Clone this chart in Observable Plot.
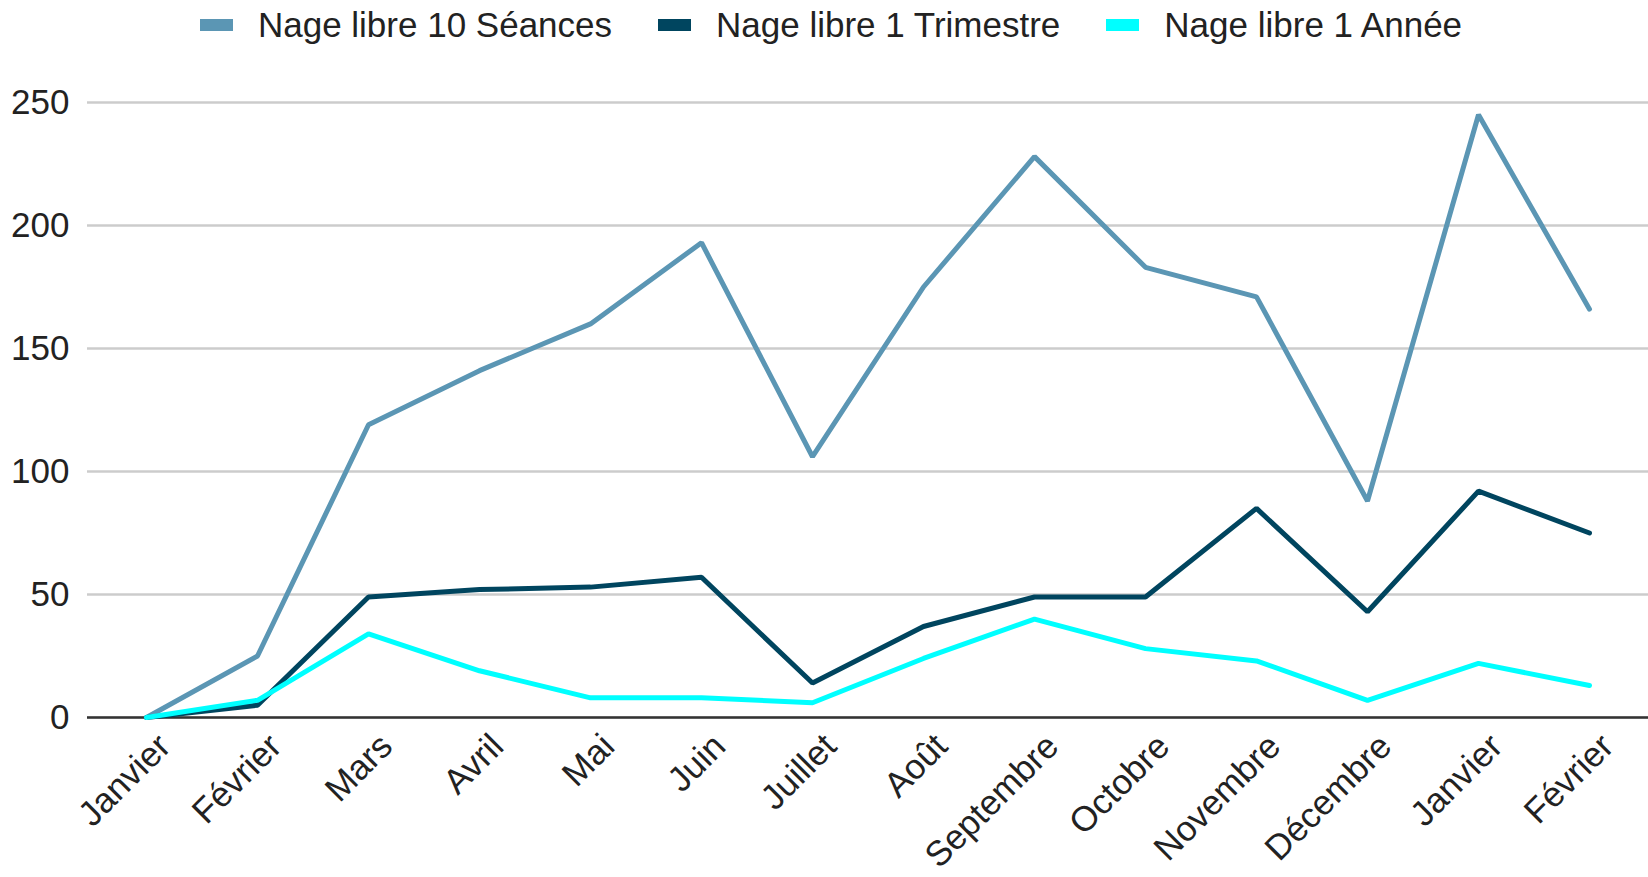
<!DOCTYPE html>
<html>
<head>
<meta charset="utf-8">
<script src="https://cdn.jsdelivr.net/npm/d3@7"></script>
<script src="https://cdn.jsdelivr.net/npm/@observablehq/plot@0.6"></script>
<style>
  body { margin: 0; background: #fff; font-family: "Liberation Sans", Arial, sans-serif; }
  #legend { height: 50px; display: flex; justify-content: center; align-items: center; font-size: 35px; color: #222; padding-left: 14px; }
  .item { display: flex; align-items: center; margin: 0 23px; }
  .sw { width: 33px; height: 12px; margin-right: 25px; }
  #chart svg { display: block; }
</style>
</head>
<body>
<div id="legend"></div>
<div id="chart"></div>
<script>
const months = ["Janvier","Février","Mars","Avril","Mai","Juin","Juillet","Août","Septembre","Octobre","Novembre","Décembre","Janvier","Février"];
const seriesNames = ["Nage libre 10 Séances","Nage libre 1 Trimestre","Nage libre 1 Année"];
const seances   = [0, 25, 119, 141, 160, 193, 106, 175, 228, 183, 171, 88, 245, 166];
const trimestre = [0, 5, 49, 52, 53, 57, 14, 37, 49, 49, 85, 43, 92, 75];
const annee     = [0, 7, 34, 19, 8, 8, 6, 24, 40, 28, 23, 7, 22, 13];
const colors = ["#5b96b4", "#00455f", "#00ffff"];
const yTicks = [0, 50, 100, 150, 200, 250];

const seriesValues = [seances, trimestre, annee];
const data = [];
seriesValues.forEach((vals, s) => vals.forEach((v, i) => data.push({i, v, s: seriesNames[s]})));

const legend = document.getElementById("legend");
seriesNames.forEach((n, k) => {
  const it = document.createElement("div");
  it.className = "item";
  it.innerHTML = `<div class="sw" style="background:${colors[k]}"></div><span>${n}</span>`;
  legend.appendChild(it);
});

const chart = Plot.plot({
  width: 1648,
  height: 827,
  marginLeft: 87,
  marginRight: 0,
  marginTop: 52,
  marginBottom: 160,
  style: { fontFamily: "'Liberation Sans', Arial, sans-serif", fontSize: "35px", color: "#222", background: "#fff" },
  x: { type: "point", domain: d3.range(months.length), padding: 0.5, label: null },
  y: { domain: [0, 250], label: null },
  color: { domain: seriesNames, range: colors },
  marks: [
    Plot.gridY(yTicks, { stroke: "#cccccc", strokeOpacity: 1, strokeWidth: 2.5 }),
    Plot.axisY(yTicks, { tickSize: 0, tickPadding: 18, fontSize: 35, label: null }),
    Plot.axisX({ tickSize: 0, tickPadding: 14, tickRotate: -45, fontSize: 35, label: null, dx: 18, dy: 9, tickFormat: i => months[i] }),
    Plot.ruleY([0], { stroke: "#333", strokeWidth: 2.5 }),
    Plot.line(data, { x: "i", y: "v", z: "s", stroke: "s", strokeWidth: 5, strokeLinejoin: "miter" })
  ]
});
document.getElementById("chart").appendChild(chart);
</script>
</body>
</html>
